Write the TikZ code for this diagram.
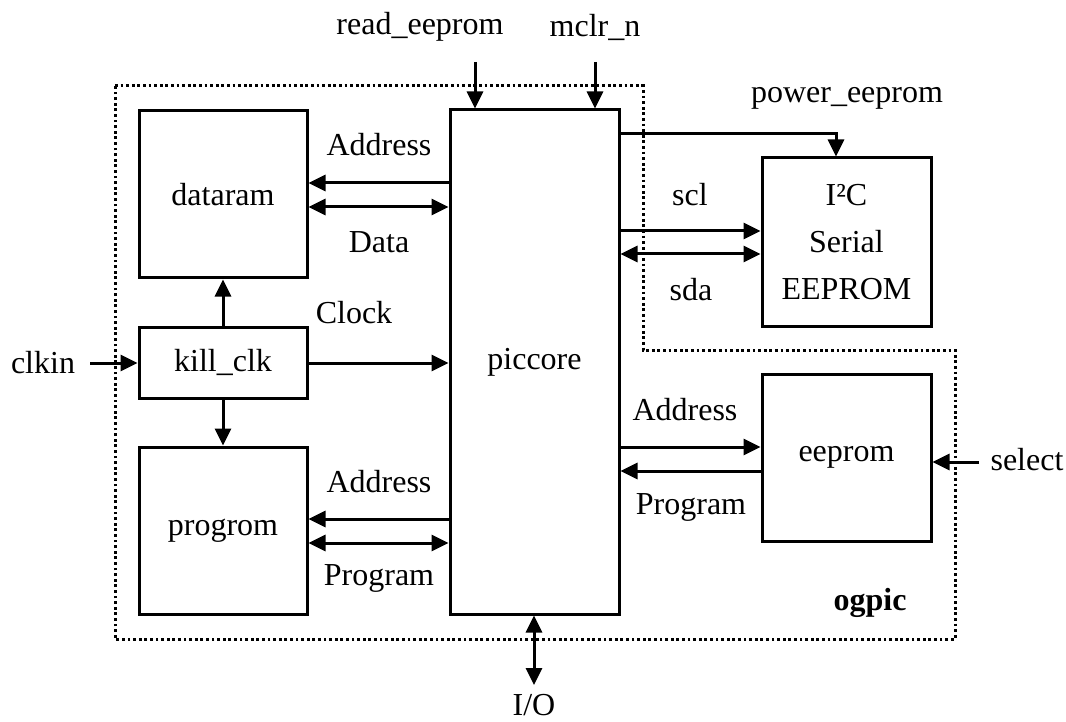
\documentclass[tikz,border=0pt]{standalone}
\usepackage{fontspec}
\setmainfont{Liberation Serif}
\usetikzlibrary{arrows.meta}
\begin{document}
\begin{tikzpicture}[x=1pt,y=-1pt,line width=3pt,
  blk/.style={draw,rectangle,inner sep=0pt,align=center,font=\fontsize{32}{47}\selectfont},
  lbl/.style={inner sep=0pt,font=\fontsize{32}{38}\selectfont},
  arr/.style={-{Triangle[length=17pt,width=16pt]}},
  darr/.style={{Triangle[length=17pt,width=16pt]}-{Triangle[length=17pt,width=16pt]}},
  frameline/.style={line width=3pt,dash pattern=on 2.8pt off 2.8pt}]
\useasboundingbox (0,0) rectangle (1066,722);
% frame
\draw[frameline] (115,86) -- (643,86) -- (643,350) -- (955,350) -- (955,639) -- (115,639) -- cycle;
% blocks
\node[blk,minimum width=168pt,minimum height=167pt] (dataram) at (223,194.5) {dataram};
\node[blk,minimum width=168pt,minimum height=71pt] (killclk) at (223,362.5) {kill\_clk};
\node[blk,minimum width=168pt,minimum height=167pt] (progrom) at (223,530.5) {progrom};
\node[blk,minimum width=169pt,minimum height=504pt] (piccore) at (534.5,362) {piccore};
\node[blk,minimum width=169pt,minimum height=168pt] (i2c) at (846.5,242) {I²C\\Serial\\EEPROM};
\node[blk,minimum width=169pt,minimum height=167pt] (eeprom) at (846.5,457.5) {eeprom};
% top inputs
\node[lbl] (treadee) at (420,27) {read\_eeprom};
\node[lbl] (tmclr) at (595,27) {mclr\_n};
\coordinate (re) at (475,62);
\coordinate (mc) at (595,62);
\draw[arr] (re) -- (re |- piccore.north);
\draw[arr] (mc) -- (mc |- piccore.north);
% power
\node[lbl] (tpower) at (847,98) {power\_eeprom};
\coordinate (pw) at (836,134);
\draw[arr] (piccore.east |- pw) -- (pw) -- (i2c.north -| pw);
% dataram
\coordinate (da1) at (300,183);
\coordinate (da2) at (300,207);
\draw[arr] (piccore.west |- da1) -- (dataram.east |- da1);
\draw[darr] (dataram.east |- da2) -- (piccore.west |- da2);
\node[lbl] (taddr1) at (379,145) {Address};
\node[lbl] (tdata) at (379,242) {Data};
% i2c
\coordinate (sc) at (700,231);
\coordinate (sd) at (700,254);
\draw[arr] (piccore.east |- sc) -- (i2c.west |- sc);
\draw[darr] (piccore.east |- sd) -- (i2c.west |- sd);
\node[lbl] (tscl) at (690,195) {scl};
\node[lbl] (tsda) at (691,290) {sda};
% clock
\coordinate (ckl) at (90,363);
\draw[arr] (ckl) -- (killclk.west |- ckl);
\node[lbl] (tclkin) at (43,363) {clkin};
\draw[arr] (killclk.east |- ckl) -- (piccore.west |- ckl);
\node[lbl] (tclock) at (354,313) {Clock};
\draw[arr] (killclk.north) -- (dataram.south);
\draw[arr] (killclk.south) -- (progrom.north);
% progrom
\coordinate (pa1) at (300,519);
\coordinate (pa2) at (300,543);
\draw[arr] (piccore.west |- pa1) -- (progrom.east |- pa1);
\draw[darr] (progrom.east |- pa2) -- (piccore.west |- pa2);
\node[lbl] (taddr2) at (379,482) {Address};
\node[lbl] (tprog1) at (379,578) {Program};
% eeprom
\coordinate (ea1) at (700,447);
\coordinate (ea2) at (700,471);
\draw[arr] (piccore.east |- ea1) -- (eeprom.west |- ea1);
\draw[arr] (eeprom.west |- ea2) -- (piccore.east |- ea2);
\node[lbl] (taddr3) at (685,410) {Address};
\node[lbl] (tprog2) at (691,507) {Program};
\coordinate (sl) at (979,462);
\draw[arr] (sl) -- (eeprom.east |- sl);
\node[lbl] (tselect) at (1027,460) {select};
% I/O
\coordinate (io) at (534,685);
\draw[darr] (piccore.south -| io) -- (io);
\node[lbl] (tio) at (534,705) {I/O};
\node[lbl,font=\fontsize{32}{38}\selectfont\bfseries] (togpic) at (870,603) {ogpic};
\end{tikzpicture}
\end{document}
